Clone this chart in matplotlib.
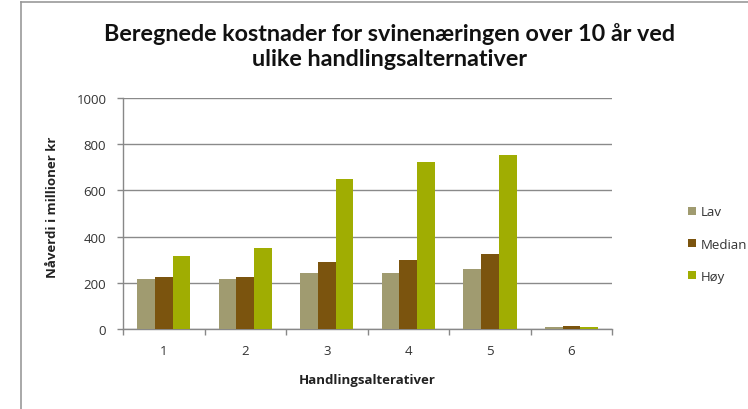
import matplotlib
matplotlib.use("Agg")
import matplotlib.pyplot as plt
import numpy as np
from matplotlib.lines import Line2D

categories = ["1", "2", "3", "4", "5", "6"]
lav = [217, 217, 243, 243, 258, 10]
median = [226, 226, 291, 300, 326, 12]
hoy = [317, 349, 649, 723, 755, 10]
series_names = ["Lav", "Median", "Høy"]
colors = ["#A09B70", "#7B540E", "#A0AD02"]

plt.rcParams['font.family'] = ['Open Sans', 'DejaVu Sans']

fig = plt.figure(figsize=(7.48, 4.10), dpi=100)
ax = fig.add_axes([0.1644, 0.195, 0.654, 0.5635])

x = np.arange(len(categories))
w = 0.218
for i, (vals, name, c) in enumerate(zip([lav, median, hoy], series_names, colors)):
    ax.bar(x + (i - 1) * w, vals, width=w, color=c, label=name, zorder=3)

ax.set_xlim(-0.5, len(categories) - 0.5)
ax.set_ylim(0, 1000)
ax.set_yticks(np.arange(0, 1001, 200))
ax.set_xticks(x)
ax.set_xticklabels(categories)
ax.set_xticks(np.arange(-0.5, len(categories), 1), minor=True)
ax.tick_params(axis='x', which='major', length=0, pad=11, labelsize=9.5, labelcolor='#333333')
ax.tick_params(axis='x', which='minor', length=4, color='#888888', width=1)
ax.tick_params(axis='y', length=4, color='#888888', width=1, labelsize=9.5, pad=8, labelcolor='#333333')
ax.grid(axis='y', color='#8a8a8a', linewidth=1, zorder=0)
for s in ['top', 'right']:
    ax.spines[s].set_visible(False)
for s in ['left', 'bottom']:
    ax.spines[s].set_color('#888888')
    ax.spines[s].set_linewidth(1)

ax.set_ylabel("Nåverdi i millioner kr", fontsize=9.5, fontweight='bold', color='#222222')
ax.yaxis.set_label_coords(-0.13, 0.53)
ax.set_xlabel("Handlingsalterativer", fontsize=9.5, fontweight='bold', labelpad=11, color='#222222')

fig.text(0.521, 0.887, "Beregnede kostnader for svinenæringen over 10 år ved\nulike handlingsalternativer",
         ha='center', va='center', fontsize=16.8, fontweight='bold', linespacing=1.25,
         color='#111111', family=['Lato', 'DejaVu Sans'])

leg = fig.legend(loc='center left', bbox_to_anchor=(0.9034, 0.4024), frameon=False,
                 fontsize=9.5, handlelength=0.6, handleheight=0.6, handletextpad=0.4,
                 labelspacing=1.45)
for t in leg.get_texts():
    t.set_color('#333333')

# outer frame lines
fig.add_artist(Line2D([21/748, 21/748], [0, 1 - 3/410], transform=fig.transFigure, color='#999999', lw=1.2))
fig.add_artist(Line2D([21/748, 1], [1 - 3/410, 1 - 3/410], transform=fig.transFigure, color='#999999', lw=1.2))

fig.savefig("out.png", dpi=100)
